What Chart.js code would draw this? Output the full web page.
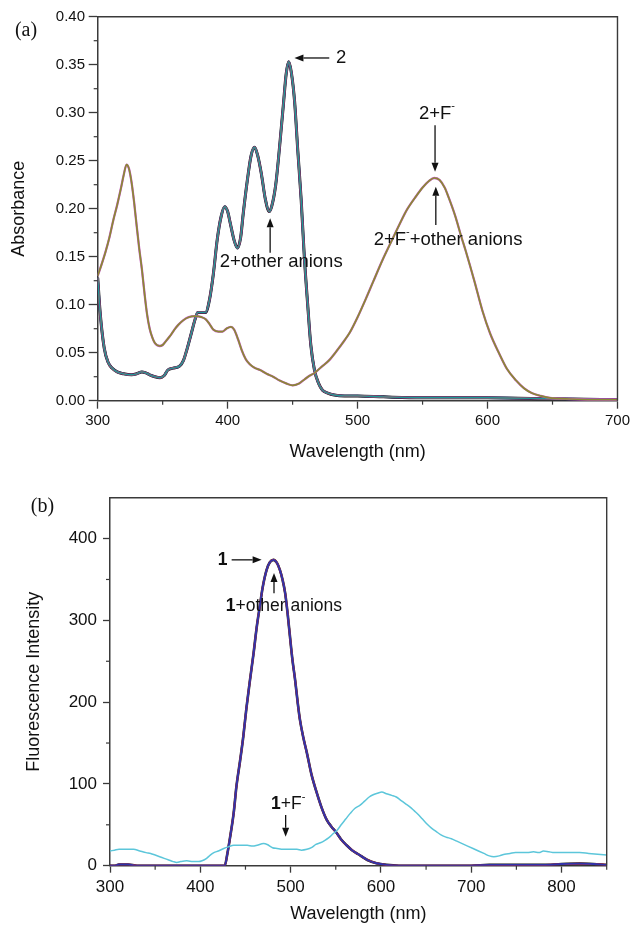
<!DOCTYPE html>
<html>
<head>
<meta charset="utf-8">
<script src="https://cdn.jsdelivr.net/npm/chart.js@4.4.1/dist/chart.umd.min.js"></script>
<style>
  html, body { margin: 0; padding: 0; background: #fff; }
  #wrap { position: relative; width: 633px; height: 926px; }
  canvas { position: absolute; left: 0; }
  #chartA { top: 0; }
  #chartB { top: 463px; }
</style>
</head>
<body>
<div id="wrap">
  <canvas id="chartA" width="633" height="463"></canvas>
  <canvas id="chartB" width="633" height="463"></canvas>
</div>
<script>
// ---- (a) absorption spectra ----
const absProbeNm = [300, 302, 305, 308, 311, 315, 320, 326, 330, 334, 337, 340, 344, 348, 351, 354, 358, 363, 366, 369,
  372, 375, 377, 380, 383, 386, 389, 392, 395, 397.7, 400, 402, 405, 407.5, 410, 412, 415, 418, 420.7, 423,
  426, 429, 432, 434, 437, 440, 443, 445, 447, 449, 451.5, 454, 456.6, 459, 461.6, 464, 466.8, 470, 473, 477,
  482, 490, 500, 520, 550, 600, 650, 700];
const absProbe = [0.128, 0.090, 0.055, 0.040, 0.034, 0.030, 0.028, 0.027, 0.028, 0.030, 0.029, 0.027, 0.025, 0.024, 0.026, 0.032, 0.034, 0.036, 0.042, 0.055,
  0.070, 0.085, 0.092, 0.092, 0.092, 0.105, 0.132, 0.168, 0.192, 0.202, 0.197, 0.185, 0.167, 0.159, 0.170, 0.195, 0.228, 0.255, 0.264, 0.256,
  0.236, 0.210, 0.197, 0.203, 0.225, 0.265, 0.310, 0.340, 0.353, 0.342, 0.312, 0.260, 0.209, 0.150, 0.100, 0.058, 0.032, 0.018, 0.011, 0.008,
  0.006, 0.005, 0.005, 0.004, 0.003, 0.003, 0.002, 0.001];

const absFluorideNm = [300, 303, 306, 309, 312, 315, 318, 320, 322.2, 324, 326, 328, 330, 332, 334, 336, 338, 340, 342, 344,
  347.8, 350, 353, 356, 359, 362, 366, 370, 375, 380, 383, 386, 389, 393, 396, 399, 402.5, 405, 408, 411,
  414, 417, 421, 425, 430, 435, 440, 445, 450, 455, 459, 463, 467, 472, 478, 484, 490, 494, 500, 506,
  512, 519, 526, 532, 538, 545, 550, 555, 559, 563, 567, 570, 575, 580, 583, 590, 596, 602, 609, 615,
  622, 628, 634, 641, 648, 660, 680, 700];
const absFluoride = [0.130, 0.142, 0.155, 0.170, 0.188, 0.204, 0.222, 0.235, 0.246, 0.242, 0.228, 0.207, 0.182, 0.158, 0.137, 0.112, 0.090, 0.075, 0.066, 0.060,
  0.057, 0.058, 0.063, 0.068, 0.074, 0.079, 0.084, 0.087, 0.088, 0.087, 0.085, 0.080, 0.074, 0.072, 0.072, 0.075, 0.077, 0.074, 0.064, 0.052,
  0.043, 0.038, 0.034, 0.032, 0.028, 0.025, 0.021, 0.018, 0.016, 0.018, 0.022, 0.026, 0.029, 0.035, 0.042, 0.052, 0.063, 0.071, 0.087, 0.105,
  0.124, 0.146, 0.166, 0.183, 0.199, 0.213, 0.222, 0.229, 0.232, 0.230, 0.222, 0.212, 0.193, 0.170, 0.157, 0.124, 0.094, 0.070, 0.049, 0.033,
  0.021, 0.013, 0.008, 0.005, 0.003, 0.002, 0.001, 0.001];

const absTicksX = [300, 400, 500, 600, 700];
const absTicksY = [0, 0.05, 0.10, 0.15, 0.20, 0.25, 0.30, 0.35, 0.40];

// ---- (b) fluorescence spectra ----
const emProbeNm = [300, 305, 310, 320, 330, 400, 420, 427, 430, 433, 437, 440, 444, 447.6, 451, 455, 459, 462.5, 466, 469,
  473.5, 477, 481, 485, 488, 491, 494, 497, 499.3, 502, 505, 508, 510.4, 514, 518, 523, 529, 534, 540, 545,
  551, 556, 562, 568, 575, 585, 595, 606, 620, 700, 720, 760, 780, 800, 820, 835, 850];
const emProbe = [0, 0, 1.5, 1.5, 0, 0, 0, 0, 15, 35, 65, 97, 128, 158, 192, 227, 260, 292, 318, 340,
  362, 371, 374, 370, 362, 350, 333, 305, 280, 252, 227, 198, 178, 157, 138, 112, 89, 72, 56, 48,
  40, 32, 25, 19, 14, 7, 3, 1, 0, 0, 1, 1, 1, 2, 2.5, 2, 1];

const emFluorideNm = [300, 305, 310, 320, 326, 333, 340, 345, 350, 355, 360, 365, 370, 374, 378, 385, 392, 398, 402, 407,
  411, 415, 420, 426, 431, 437, 445, 452, 458, 463, 470, 474, 480, 485, 492, 500, 507, 512, 518, 523,
  528, 533, 538, 542, 547, 552, 556, 561, 566, 571, 577, 582, 587, 592, 597, 601, 606, 612, 617, 622,
  627, 632, 637, 641, 646, 651, 656, 661, 666, 672, 678, 684, 690, 696, 702, 708, 714, 720, 725, 731,
  737, 743, 749, 755, 762, 769, 775, 780, 786, 792, 800, 810, 820, 830, 840, 850];
const emFluoride = [18, 19, 20, 20, 20, 18, 16, 15, 13, 11, 9, 7, 5, 4, 5, 6, 5, 5, 6, 9,
  13, 16, 18, 21, 23, 25, 25, 25, 24, 25, 27, 26, 22, 21, 20, 20, 20, 19, 20, 22,
  26, 28, 31, 34, 39, 44, 50, 57, 64, 70, 74, 79, 84, 87, 89, 90, 88, 86, 84, 80,
  76, 72, 67, 63, 57, 51, 46, 42, 38, 35, 33, 30, 27, 24, 21, 18, 15, 12, 11, 12,
  14, 15, 16, 16, 16, 17, 16, 18, 17, 16, 16, 16, 16, 15, 14, 13];

const emTicksX = [300, 400, 500, 600, 700, 800];
const emTicksY = [0, 100, 200, 300, 400];

const SANS = '"Liberation Sans", Arial, sans-serif';
const AXIS = '#3a3a3a';

function points(xs, ys) {
  return xs.map((x, i) => ({ x: x, y: ys[i] }));
}

function line(label, xs, ys, color, width) {
  return {
    label: label,
    data: points(xs, ys),
    borderColor: color,
    borderWidth: width,
    pointRadius: 0,
    tension: 0.3,
    cubicInterpolationMode: 'monotone',
    fill: false
  };
}

// arrow with filled head
function drawArrow(ctx, x1, y1, x2, y2) {
  const head = 9, half = 3.5;
  const a = Math.atan2(y2 - y1, x2 - x1);
  const bx = x2 - Math.cos(a) * head, by = y2 - Math.sin(a) * head;
  ctx.beginPath();
  ctx.moveTo(x1, y1);
  ctx.lineTo(bx, by);
  ctx.stroke();
  ctx.beginPath();
  ctx.moveTo(x2, y2);
  ctx.lineTo(bx - Math.sin(a) * half, by + Math.cos(a) * half);
  ctx.lineTo(bx + Math.sin(a) * half, by - Math.cos(a) * half);
  ctx.closePath();
  ctx.fill();
}

// text made of parts, some bold or superscript
function drawRich(ctx, parts, x, y, size, align) {
  const fontFor = p => (p.bold ? 'bold ' : '') + (p.sup ? Math.round(size * 0.6) : size) + 'px ' + SANS;
  let total = 0;
  parts.forEach(p => { ctx.font = fontFor(p); total += ctx.measureText(p.t).width; });
  let cx = align === 'center' ? x - total / 2 : (align === 'right' ? x - total : x);
  ctx.textAlign = 'left';
  ctx.textBaseline = 'middle';
  parts.forEach(p => {
    ctx.font = fontFor(p);
    ctx.fillText(p.t, cx, p.sup ? y - size * 0.42 : y);
    cx += ctx.measureText(p.t).width;
  });
}

// frame, minor ticks, panel letter and annotations
const decorations = {
  id: 'decorations',
  afterDraw(chart, args, opts) {
    const { ctx, chartArea } = chart;
    const xs = chart.scales.x, ys = chart.scales.y;
    ctx.save();
    ctx.strokeStyle = AXIS;
    ctx.lineWidth = 1.4;
    ctx.beginPath();
    ctx.moveTo(chartArea.left, chartArea.top);
    ctx.lineTo(chartArea.right, chartArea.top);
    ctx.lineTo(chartArea.right, chartArea.bottom);
    ctx.stroke();

    // minor ticks
    ctx.lineWidth = 1.2;
    for (let v = xs.min + opts.minorX; v <= xs.max + 1e-9; v += opts.minorX * 2) {
      const px = xs.getPixelForValue(v);
      ctx.beginPath();
      ctx.moveTo(px, chartArea.bottom);
      ctx.lineTo(px, chartArea.bottom + 4);
      ctx.stroke();
    }
    for (let v = ys.min + opts.minorY; v < ys.max - 1e-9; v += opts.minorY * 2) {
      const py = ys.getPixelForValue(v);
      ctx.beginPath();
      ctx.moveTo(chartArea.left, py);
      ctx.lineTo(chartArea.left - 4, py);
      ctx.stroke();
    }

    // panel letter
    ctx.fillStyle = '#111';
    ctx.font = '20px "Liberation Serif", "Times New Roman", serif';
    ctx.textAlign = 'center';
    ctx.textBaseline = 'middle';
    ctx.fillText(opts.letter.text, opts.letter.x, opts.letter.y);

    // arrows and labels
    ctx.strokeStyle = '#111';
    ctx.fillStyle = '#111';
    ctx.lineWidth = 1.3;
    opts.arrows.forEach(a => {
      drawArrow(ctx, xs.getPixelForValue(a.from[0]), ys.getPixelForValue(a.from[1]),
        xs.getPixelForValue(a.to[0]), ys.getPixelForValue(a.to[1]));
    });
    opts.notes.forEach(n => {
      drawRich(ctx, n.parts, xs.getPixelForValue(n.x), ys.getPixelForValue(n.y), opts.noteSize, n.align);
    });
    ctx.restore();
  }
};

function makeOptions(cfg) {
  return {
    responsive: false,
    animation: false,
    devicePixelRatio: 1,
    layout: { padding: cfg.padding },
    plugins: {
      legend: { display: false },
      tooltip: { enabled: false },
      decorations: cfg.decorations
    },
    scales: {
      x: {
        type: 'linear',
        min: cfg.xMin, max: cfg.xMax,
        afterFit: s => { s.height = cfg.xHeight; },
        afterBuildTicks: s => { s.ticks = cfg.xTicks.map(v => ({ value: v })); },
        border: { display: true, color: AXIS, width: 1.5 },
        grid: { drawOnChartArea: false, drawTicks: true, tickLength: cfg.xTickLen, tickColor: AXIS, tickWidth: 1.3 },
        ticks: { color: '#111', font: { size: cfg.tickSize, family: SANS }, padding: cfg.xPad, maxRotation: 0,
          callback: v => String(v) },
        title: { display: true, text: 'Wavelength (nm)', color: '#111',
          font: { size: 18, family: SANS }, padding: { top: 0, bottom: cfg.xTitlePad } }
      },
      y: {
        type: 'linear',
        min: cfg.yMin, max: cfg.yMax,
        afterFit: s => { s.width = cfg.yWidth; },
        afterBuildTicks: s => { s.ticks = cfg.yTicks.map(v => ({ value: v })); },
        border: { display: true, color: AXIS, width: 1.5 },
        grid: { drawOnChartArea: false, drawTicks: true, tickLength: cfg.yTickLen, tickColor: AXIS, tickWidth: 1.3 },
        ticks: { color: '#111', font: { size: cfg.tickSize, family: SANS }, padding: cfg.yPad,
          callback: cfg.yFormat },
        title: { display: true, text: cfg.yTitle, color: '#111',
          font: { size: 18, family: SANS }, padding: { top: cfg.yTitlePad, bottom: 0 } }
      }
    }
  };
}

const F_MINUS = [{ t: 'F' }, { t: '-', sup: true }];

new Chart(document.getElementById('chartA'), {
  type: 'line',
  data: {
    datasets: [
      line('2+F- (a)', absFluorideNm, absFluoride, '#8a8a34', 1.7),
      line('2+F- (b)', absFluorideNm, absFluoride, '#c858c8', 2.3),
      line('2 + other anions (a)', absProbeNm, absProbe, '#1f9696', 1.4),
      line('2 + other anions (b)', absProbeNm, absProbe, '#e03a48', 1.9),
      line('2 + other anions (c)', absProbeNm, absProbe, '#3848a8', 2.4),
      line('2', absProbeNm, absProbe, '#111111', 3.0)
    ]
  },
  options: makeOptions({
    padding: { top: 16.7, right: 14, left: 0, bottom: 0 },
    xMin: 300, xMax: 700, yMin: 0, yMax: 0.4,
    xTicks: absTicksX, yTicks: absTicksY,
    xHeight: 62.3, yWidth: 97.7,
    xTickLen: 8, yTickLen: 9, xPad: 3, yPad: 3.7,
    tickSize: 15,
    xTitlePad: 0.5, yTitlePad: 8.2,
    yTitle: 'Absorbance',
    yFormat: v => v.toFixed(2),
    decorations: {
      minorX: 50, minorY: 0.025,
      letter: { text: '(a)', x: 26, y: 31 },
      noteSize: 18.5,
      arrows: [
        { from: [478.2, 0.357], to: [451.4, 0.357] },
        { from: [559.6, 0.287], to: [559.6, 0.2385] },
        { from: [560.2, 0.183], to: [560.2, 0.2229] },
        { from: [432.7, 0.154], to: [432.7, 0.190] }
      ],
      notes: [
        { parts: [{ t: '2' }], x: 483.4, y: 0.357, align: 'left' },
        { parts: [{ t: '2+' }].concat(F_MINUS), x: 561.1, y: 0.299, align: 'center' },
        { parts: [{ t: '2+' }].concat(F_MINUS, [{ t: '+other anions' }]), x: 569.6, y: 0.168, align: 'center' },
        { parts: [{ t: '2+other anions' }], x: 441.2, y: 0.1448, align: 'center' }
      ]
    }
  }),
  plugins: [decorations]
});

new Chart(document.getElementById('chartB'), {
  type: 'line',
  data: {
    datasets: [
      line('1+F-', emFluorideNm, emFluoride, '#5cc6da', 1.5),
      line('1 + other anions (a)', emProbeNm, emProbe, '#2f34aa', 1.9),
      line('1 + other anions (b)', emProbeNm, emProbe, '#e03040', 2.0),
      line('1', emProbeNm, emProbe, '#111111', 2.6)
    ]
  },
  options: makeOptions({
    padding: { top: 34.7, right: 26.3, left: 0, bottom: 0 },
    xMin: 300, xMax: 850, yMin: 0, yMax: 450,
    xTicks: emTicksX, yTicks: emTicksY,
    xHeight: 60.3, yWidth: 110,
    xTickLen: 7, yTickLen: 7, xPad: 4, yPad: 6,
    tickSize: 17,
    xTitlePad: 1.2, yTitlePad: 23.2,
    yTitle: 'Fluorescence Intensity',
    yFormat: v => String(v),
    decorations: {
      minorX: 50, minorY: 50,
      letter: { text: '(b)', x: 42.5, y: 44 },
      noteSize: 17.5,
      arrows: [
        { from: [434.7, 374], to: [467.9, 374] },
        { from: [481.6, 333.3], to: [481.6, 357.8] },
        { from: [494.5, 62], to: [494.5, 35.5] }
      ],
      notes: [
        { parts: [{ t: '1', bold: true }], x: 430.1, y: 374, align: 'right' },
        { parts: [{ t: '1', bold: true }, { t: '+other anions' }], x: 492.6, y: 317, align: 'center' },
        { parts: [{ t: '1', bold: true }, { t: '+' }].concat(F_MINUS), x: 497.4, y: 75.5, align: 'center' }
      ]
    }
  }),
  plugins: [decorations]
});
</script>
</body>
</html>
